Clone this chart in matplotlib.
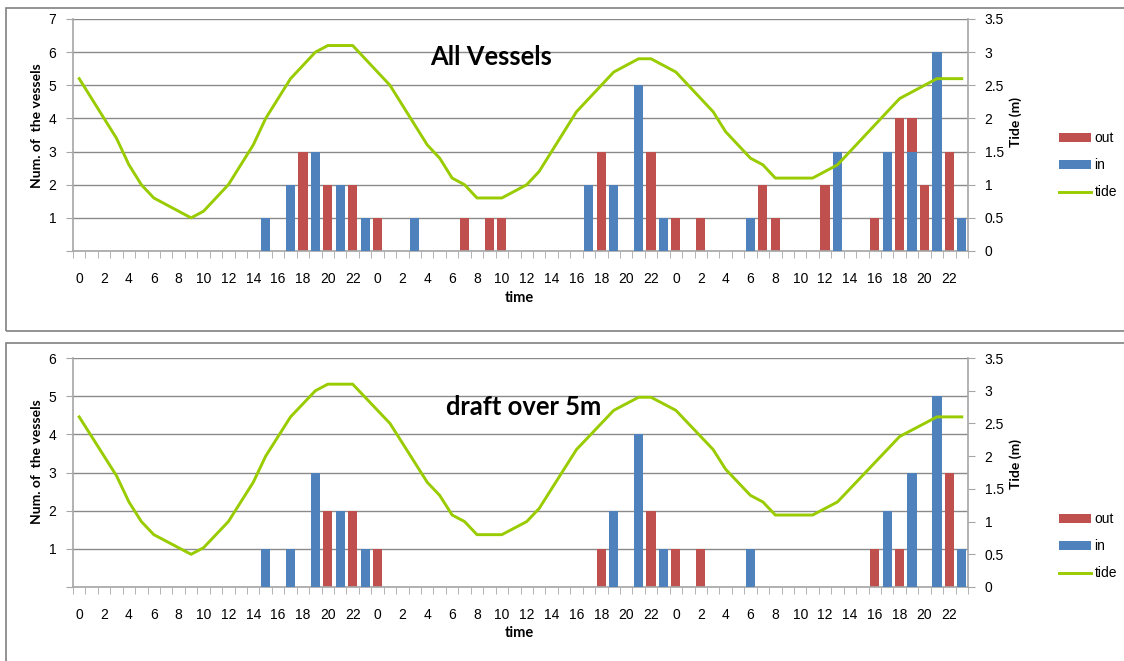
import numpy as np
import matplotlib
matplotlib.use("Agg")
import matplotlib.pyplot as plt
from matplotlib.patches import Rectangle, Patch
from matplotlib.lines import Line2D
from matplotlib.ticker import FixedLocator, FuncFormatter, MultipleLocator

# ---------------- data ----------------
hours = list(range(24)) * 3

tide = [2.6, 2.3, 2.0, 1.7, 1.3, 1.0, 0.8, 0.7, 0.6, 0.5, 0.6, 0.8,
        1.0, 1.3, 1.6, 2.0, 2.3, 2.6, 2.8, 3.0, 3.1, 3.1, 3.1, 2.9,
        2.7, 2.5, 2.2, 1.9, 1.6, 1.4, 1.1, 1.0, 0.8, 0.8, 0.8, 0.9,
        1.0, 1.2, 1.5, 1.8, 2.1, 2.3, 2.5, 2.7, 2.8, 2.9, 2.9, 2.8,
        2.7, 2.5, 2.3, 2.1, 1.8, 1.6, 1.4, 1.3, 1.1, 1.1, 1.1, 1.1,
        1.2, 1.3, 1.5, 1.7, 1.9, 2.1, 2.3, 2.4, 2.5, 2.6, 2.6, 2.6]

all_out = ([0, 0, 0, 0, 0, 0, 0, 0, 0, 0, 0, 0, 0, 0, 0, 0, 0, 0, 3, 0, 2, 0, 2, 0] +
           [1, 0, 0, 0, 0, 0, 0, 1, 0, 1, 1, 0, 0, 0, 0, 0, 0, 0, 3, 0, 0, 0, 3, 0] +
           [1, 0, 1, 0, 0, 0, 0, 2, 1, 0, 0, 0, 2, 0, 0, 0, 1, 0, 4, 4, 2, 0, 3, 0])
all_in = ([0, 0, 0, 0, 0, 0, 0, 0, 0, 0, 0, 0, 0, 0, 0, 1, 0, 2, 0, 3, 0, 2, 0, 1] +
          [0, 0, 0, 1, 0, 0, 0, 0, 0, 0, 0, 0, 0, 0, 0, 0, 0, 2, 0, 2, 0, 5, 0, 1] +
          [0, 0, 0, 0, 0, 0, 1, 0, 0, 0, 0, 0, 0, 3, 0, 0, 0, 3, 0, 3, 0, 6, 0, 1])

draft_out = ([0, 0, 0, 0, 0, 0, 0, 0, 0, 0, 0, 0, 0, 0, 0, 0, 0, 0, 0, 0, 2, 0, 2, 0] +
             [1, 0, 0, 0, 0, 0, 0, 0, 0, 0, 0, 0, 0, 0, 0, 0, 0, 0, 1, 0, 0, 0, 2, 0] +
             [1, 0, 1, 0, 0, 0, 0, 0, 0, 0, 0, 0, 0, 0, 0, 0, 1, 0, 1, 0, 0, 0, 3, 0])
draft_in = ([0, 0, 0, 0, 0, 0, 0, 0, 0, 0, 0, 0, 0, 0, 0, 1, 0, 1, 0, 3, 0, 2, 0, 1] +
            [0, 0, 0, 0, 0, 0, 0, 0, 0, 0, 0, 0, 0, 0, 0, 0, 0, 0, 0, 2, 0, 4, 0, 1] +
            [0, 0, 0, 0, 0, 0, 1, 0, 0, 0, 0, 0, 0, 0, 0, 0, 0, 2, 0, 3, 0, 5, 0, 1])

titles = ["All Vessels", "draft over 5m"]
series_labels = ["out", "in", "tide"]

# ---------------- style ----------------
C_OUT = "#C0504D"
C_IN = "#4F81BD"
C_TIDE = "#99CC00"
C_GRID = "#8A8A8A"
C_SPINE = "#A6A6A6"
TICK_FONT = "Liberation Sans"
BOLD_FONT = "Lato"

W, H = 1124, 661
fig = plt.figure(figsize=(W / 100, H / 100), dpi=100)
fig.patch.set_facecolor("white")


def fx(px):
    return px / W


def fy(py):
    return 1 - py / H


# chart frames
for (top, bot) in [(8, 331), (343, 680)]:
    fig.patches.append(Rectangle((fx(6), fy(bot)), fx(1200) - fx(6), fy(top) - fy(bot),
                                 transform=fig.transFigure, fill=False,
                                 edgecolor="#808080", lw=1.2, zorder=0))

panels = [
    dict(top=19, bot=251, ymax=7, out=all_out, inn=all_in, title=titles[0],
         title_xy=(491, 65), ylab_y=126, rlab_y=122, time_y=302,
         leg_y=(141, 196)),
    dict(top=358, bot=587, ymax=6, out=draft_out, inn=draft_in, title=titles[1],
         title_xy=(524, 415), ylab_y=462, rlab_y=464, time_y=637,
         leg_y=(522, 577)),
]

x = np.arange(len(hours))
L, R = 73, 968

for p in panels:
    ax = fig.add_axes([fx(L), fy(p["bot"]), fx(R) - fx(L), fy(p["top"]) - fy(p["bot"])])
    ax.set_facecolor("none")
    ax.bar(x, p["out"], width=0.74, color=C_OUT, zorder=2, label=series_labels[0])
    ax.bar(x, p["inn"], width=0.74, color=C_IN, zorder=3, label=series_labels[1])
    ax.set_xlim(-0.5, len(hours) - 0.5)
    ax.set_ylim(0, p["ymax"])
    ax.yaxis.set_major_locator(MultipleLocator(1))
    ax.yaxis.set_major_formatter(FuncFormatter(lambda v, pos: "" if v == 0 else "%d" % v))
    ax.grid(axis="y", color=C_GRID, lw=1.0, zorder=0)
    ax.set_axisbelow(True)
    for s in ["top", "right"]:
        ax.spines[s].set_visible(False)
    for s in ["left", "bottom"]:
        ax.spines[s].set_color(C_SPINE)
        ax.spines[s].set_linewidth(1.2)

    # x ticks: marks at category boundaries, labels every 2 categories
    ax.xaxis.set_major_locator(FixedLocator(x[::2]))
    ax.set_xticklabels([str(h) for h in hours[::2]], fontsize=10, family=TICK_FONT)
    ax.xaxis.set_minor_locator(FixedLocator(np.arange(len(hours) + 1) - 0.5))
    ax.tick_params(axis="x", which="major", length=0, pad=15)
    ax.tick_params(axis="x", which="minor", length=5, color=C_SPINE, direction="out")
    ax.tick_params(axis="y", length=5, color=C_SPINE, pad=7, labelsize=10)
    for t in ax.get_yticklabels():
        t.set_family(TICK_FONT)

    ax2 = ax.twinx()
    ax2.plot(x, tide, color=C_TIDE, lw=2.1, zorder=5, label=series_labels[2])
    ax2.set_ylim(0, 3.5)
    ax2.yaxis.set_major_locator(MultipleLocator(0.5))
    ax2.yaxis.set_major_formatter(FuncFormatter(lambda v, pos: "%g" % v))
    for s in ["top", "left", "bottom"]:
        ax2.spines[s].set_visible(False)
    ax2.spines["right"].set_color(C_SPINE)
    ax2.spines["right"].set_linewidth(1.2)
    ax2.tick_params(axis="y", length=5, color=C_SPINE, pad=7, labelsize=10)
    for t in ax2.get_yticklabels():
        t.set_family(TICK_FONT)

    # texts
    fig.text(fx(p["title_xy"][0]), fy(p["title_xy"][1]), p["title"], ha="center", va="baseline",
             fontsize=18.4, fontweight="bold", family=BOLD_FONT)
    fig.text(fx(37), fy(p["ylab_y"]), "Num. of  the vessels", rotation=90, ha="center",
             va="center", fontsize=10, fontweight="bold", family=BOLD_FONT)
    fig.text(fx(1016), fy(p["rlab_y"]), "Tide (m)", rotation=90, ha="center", va="center",
             fontsize=10, fontweight="bold", family=BOLD_FONT)
    fig.text(fx(519), fy(p["time_y"]), "time", ha="center", va="baseline",
             fontsize=10.5, fontweight="bold", family=BOLD_FONT)

    handles = [Patch(facecolor=C_OUT, edgecolor="none"),
               Patch(facecolor=C_IN, edgecolor="none"),
               Line2D([], [], color=C_TIDE, lw=2.1)]
    leg = fig.legend(handles, series_labels, loc="upper left",
                     bbox_to_anchor=(fx(1059), fy(p["leg_y"][0] - 10)),
                     frameon=False, fontsize=10, handlelength=2.3, handleheight=0.6,
                     handletextpad=0.25, labelspacing=0.95, borderpad=0, borderaxespad=0)
    for t in leg.get_texts():
        t.set_family(TICK_FONT)

fig.savefig("out.png", dpi=100, facecolor="white")
